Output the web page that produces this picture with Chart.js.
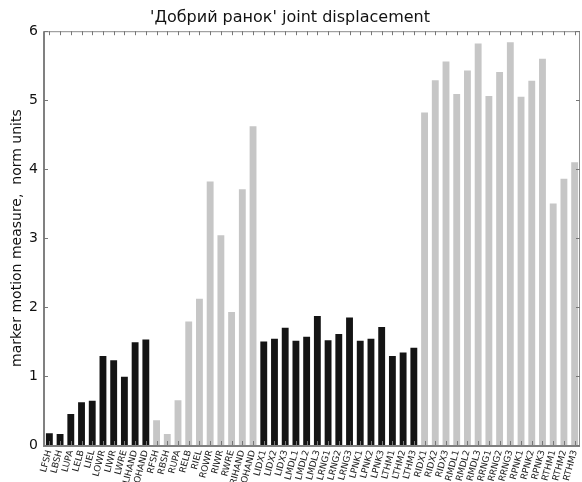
<!DOCTYPE html>
<html>
<head>
<meta charset="utf-8">
<script src="https://cdn.jsdelivr.net/npm/chart.js@4.4.1/dist/chart.umd.min.js"></script>
<style>
  html, body { margin: 0; padding: 0; background: #ffffff; }
  #wrap { width: 582px; height: 482px; }
</style>
</head>
<body>
<div id="wrap"><canvas id="c" width="582" height="482"></canvas></div>
<script>
// Marker names, in plotting order
const markers = [
  'LFSH','LBSH','LUPA','LELB','LIEL','LOWR','LIWR','LWRE','LIHAND','LOHAND',
  'RFSH','RBSH','RUPA','RELB','RIEL','ROWR','RIWR','RWRE','RIHAND','ROHAND',
  'LIDX1','LIDX2','LIDX3','LMDL1','LMDL2','LMDL3','LRNG1','LRNG2','LRNG3',
  'LPNK1','LPNK2','LPNK3','LTHM1','LTHM2','LTHM3',
  'RIDX1','RIDX2','RIDX3','RMDL1','RMDL2','RMDL3','RRNG1','RRNG2','RRNG3',
  'RPNK1','RPNK2','RPNK3','RTHM1','RTHM2','RTHM3'
];

// Motion measure per marker (norm units)
const leftArm    = [0.17, 0.16, 0.45, 0.62, 0.64, 1.29, 1.23, 0.99, 1.49, 1.53];
const rightArm   = [0.36, 0.16, 0.65, 1.79, 2.12, 3.82, 3.04, 1.93, 3.71, 4.62];
const leftHand   = [1.50, 1.54, 1.70, 1.51, 1.57, 1.87, 1.52, 1.61, 1.85,
                    1.51, 1.54, 1.71, 1.29, 1.34, 1.41];
const rightHand  = [4.82, 5.29, 5.56, 5.09, 5.43, 5.82, 5.06, 5.41, 5.84,
                    5.05, 5.28, 5.60, 3.50, 3.86, 4.10];

const yTicks = [0, 1, 2, 3, 4, 5, 6];

const values = [...leftArm, ...rightArm, ...leftHand, ...rightHand];
const sides = [
  ...leftArm.map(() => 'L'), ...rightArm.map(() => 'R'),
  ...leftHand.map(() => 'L'), ...rightHand.map(() => 'R')
];
const DARK = '#141414';
const LIGHT = '#c6c6c6';

// Frame around the plot area with inward tick marks on all four sides
const framePlugin = {
  id: 'frame',
  afterDraw(chart) {
    const { ctx, chartArea: a, scales } = chart;
    ctx.save();
    ctx.strokeStyle = '#8c8c8c';
    ctx.lineWidth = 1;
    ctx.beginPath();
    ctx.moveTo(a.left, a.top + 0.5); ctx.lineTo(a.right, a.top + 0.5);
    ctx.moveTo(a.right - 0.5, a.top); ctx.lineTo(a.right - 0.5, a.bottom);
    ctx.stroke();
    ctx.lineWidth = 2;
    ctx.strokeStyle = '#808080';
    ctx.beginPath();
    ctx.moveTo(a.left, a.top); ctx.lineTo(a.left, a.bottom + 1);
    ctx.lineTo(a.right, a.bottom + 1);
    ctx.stroke();
    ctx.lineWidth = 1;
    ctx.strokeStyle = '#777777';
    ctx.beginPath();
    markers.forEach((m, i) => {
      const x = Math.round(scales.x.getPixelForValue(i)) + 0.5;
      ctx.moveTo(x, a.top); ctx.lineTo(x, a.top + 4);
      ctx.moveTo(x, a.bottom); ctx.lineTo(x, a.bottom - 4);
    });
    yTicks.forEach(v => {
      const y = Math.round(scales.y.getPixelForValue(v)) + 0.5;
      ctx.moveTo(a.left, y); ctx.lineTo(a.left + 4, y);
      ctx.moveTo(a.right, y); ctx.lineTo(a.right - 4, y);
    });
    ctx.stroke();
    ctx.restore();
  }
};

new Chart(document.getElementById('c'), {
  type: 'bar',
  data: {
    labels: markers,
    datasets: [{
      data: values,
      backgroundColor: sides.map(s => s === 'L' ? DARK : LIGHT),
      borderWidth: 0,
      barPercentage: 0.64,
      categoryPercentage: 1.0
    }]
  },
  options: {
    responsive: false,
    animation: false,
    layout: { autoPadding: false, padding: { left: 0, right: 2, top: 0, bottom: 0 } },
    plugins: {
      legend: { display: false },
      tooltip: { enabled: false },
      title: {
        display: true,
        text: "'Добрий ранок' joint displacement",
        color: '#111111',
        font: { family: 'DejaVu Sans', size: 16, weight: 'normal' },
        padding: { top: 8, bottom: 4 }
      }
    },
    scales: {
      x: {
        offset: true,
        grid: { display: false, drawTicks: false },
        border: { display: false },
        ticks: {
          autoSkip: false,
          minRotation: 75,
          maxRotation: 75,
          padding: 4,
          color: '#222222',
          font: { family: 'DejaVu Sans', size: 9 }
        },
        afterFit(scale) {
          scale.height = 37;
          scale.paddingLeft = 0;
          scale.paddingRight = 0;
        }
      },
      y: {
        min: 0,
        max: 6,
        grid: { display: false, drawTicks: false },
        border: { display: false },
        ticks: {
          stepSize: 1,
          padding: 6,
          color: '#111111',
          font: { family: 'DejaVu Sans', size: 14 }
        },
        title: {
          display: true,
          text: 'marker motion measure,  norm units',
          color: '#111111',
          font: { family: 'DejaVu Sans', size: 14 },
          padding: { top: 9, bottom: 0 }
        },
        afterFit(scale) {
          scale.width = 44;
          scale.paddingTop = 0;
          scale.paddingBottom = 0;
        }
      }
    }
  },
  plugins: [framePlugin]
});
</script>
</body>
</html>
